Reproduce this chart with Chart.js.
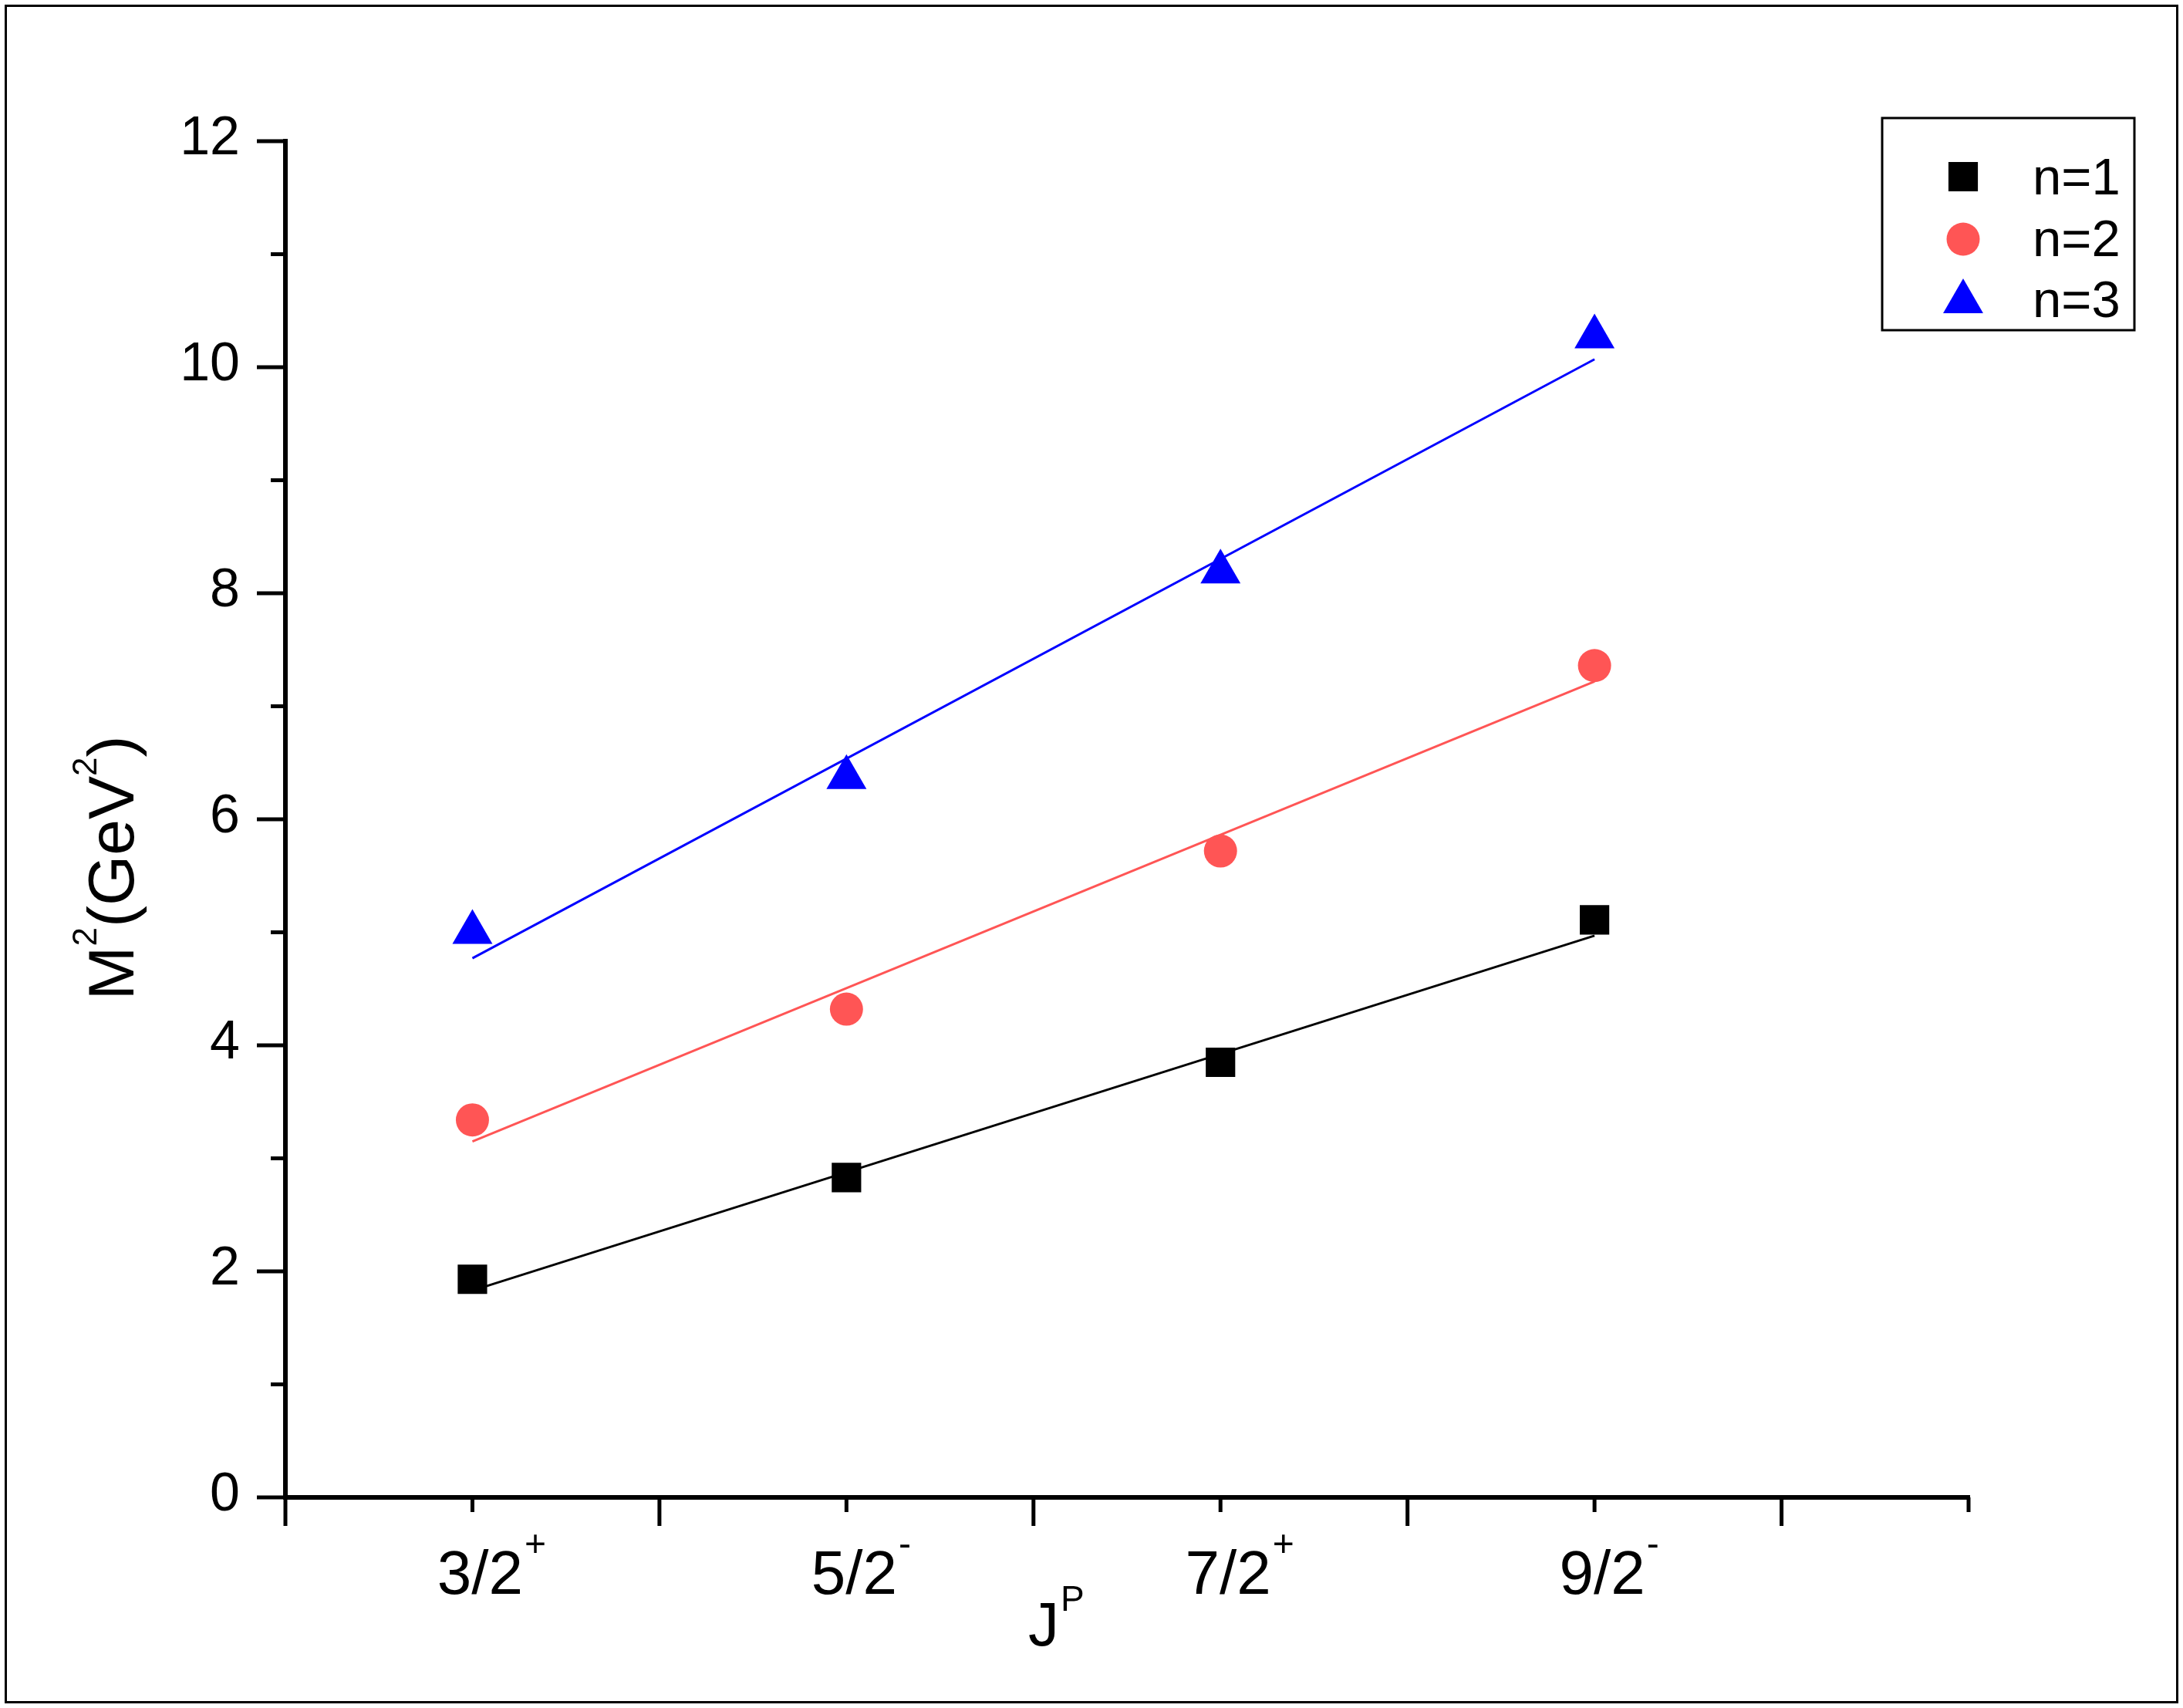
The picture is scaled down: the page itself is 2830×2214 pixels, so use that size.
<!DOCTYPE html>
<html>
<head>
<meta charset="utf-8">
<title>M2 vs JP</title>
<script src="https://cdn.jsdelivr.net/npm/chart.js@4.4.1/dist/chart.umd.min.js"></script>
<style>
  html, body { margin: 0; padding: 0; background: #fff; }
  canvas { display: block; }
</style>
</head>
<body>
<canvas id="myChart" width="2830" height="2214"></canvas>
<script>
// categories (J^P) and their x positions
const spins = ['3/2', '5/2', '7/2', '9/2'];
const parity = ['+', '-', '+', '-'];
const xPos = [1, 2, 3, 4];

// M^2 values
const n1 = [1.93, 2.83, 3.85, 5.11];
const n2 = [3.34, 4.32, 5.72, 7.36];
const n3 = [5.00, 6.37, 8.19, 10.27];

// end points of the straight fit lines
const fitX = [1, 4];
const fit1 = [1.83, 4.97];
const fit2 = [3.15, 7.22];
const fit3 = [4.77, 10.07];

const seriesNames = ['n=1', 'n=2', 'n=3'];

// ticks
const yMajor = [0, 2, 4, 6, 8, 10, 12];
const yMinor = [1, 3, 5, 7, 9, 11];
const xMajor = [0.5, 1.5, 2.5, 3.5, 4.5];
const xMinor = [1, 2, 3, 4, 5];

const FONT = '"Liberation Sans", Arial, sans-serif';

function pts(xs, ys) {
  return xs.map((x, i) => ({ x: x, y: ys[i] }));
}

// draw text made of parts, some of them raised (superscripts)
function drawParts(ctx, parts, x, y) {
  let cx = x;
  parts.forEach(p => {
    ctx.font = p.size + 'px ' + FONT;
    ctx.fillText(p.t, cx, y + (p.dy || 0));
    cx += ctx.measureText(p.t).width + (p.gap || 0);
  });
}

function partsWidth(ctx, parts) {
  let w = 0;
  parts.forEach(p => {
    ctx.font = p.size + 'px ' + FONT;
    w += ctx.measureText(p.t).width + (p.gap || 0);
  });
  return w;
}

function drawMarker(ctx, ds, x, y) {
  const opts = { pointStyle: ds.pointStyle, radius: ds.pointRadius, rotation: 0, borderWidth: 0 };
  ctx.fillStyle = ds.backgroundColor;
  ctx.strokeStyle = ds.backgroundColor;
  if (Chart.helpers && Chart.helpers.drawPoint) {
    Chart.helpers.drawPoint(ctx, opts, x, y);
    return;
  }
  const r = ds.pointRadius;
  ctx.beginPath();
  if (ds.pointStyle === 'rect') {
    const s = Math.SQRT1_2 * r;
    ctx.rect(x - s, y - s, 2 * s, 2 * s);
  } else if (ds.pointStyle === 'triangle') {
    ctx.moveTo(x, y - r);
    ctx.lineTo(x + r * Math.sin(2 * Math.PI / 3), y + r / 2);
    ctx.lineTo(x - r * Math.sin(2 * Math.PI / 3), y + r / 2);
    ctx.closePath();
  } else {
    ctx.arc(x, y, r, 0, Math.PI * 2);
  }
  ctx.fill();
}

const originLook = {
  id: 'originLook',
  beforeDraw(chart) {
    const ctx = chart.ctx;
    ctx.save();
    ctx.fillStyle = '#fff';
    ctx.fillRect(0, 0, chart.width, chart.height);
    ctx.strokeStyle = '#000';
    ctx.lineWidth = 3;
    ctx.strokeRect(7.5, 7.5, chart.width - 15, chart.height - 15);
    ctx.restore();
  },
  afterDraw(chart) {
    const ctx = chart.ctx;
    const xs = chart.scales.x;
    const ys = chart.scales.y;
    const x0 = xs.getPixelForValue(xs.min);
    const x1 = xs.getPixelForValue(xs.max);
    const y0 = ys.getPixelForValue(ys.min);
    const y1 = ys.getPixelForValue(ys.max);
    ctx.save();
    ctx.strokeStyle = '#000';
    ctx.fillStyle = '#000';
    ctx.lineCap = 'butt';

    // axis lines
    ctx.lineWidth = 6;
    ctx.beginPath();
    ctx.moveTo(x0, y1 - 3);
    ctx.lineTo(x0, y0 + 3);
    ctx.moveTo(x0 - 3, y0);
    ctx.lineTo(x1 + 2, y0);
    ctx.stroke();

    // ticks
    ctx.lineWidth = 5;
    ctx.beginPath();
    yMajor.forEach(v => { const p = ys.getPixelForValue(v); ctx.moveTo(x0, p); ctx.lineTo(x0 - 37, p); });
    yMinor.forEach(v => { const p = ys.getPixelForValue(v); ctx.moveTo(x0, p); ctx.lineTo(x0 - 19, p); });
    xMajor.forEach(v => { const p = xs.getPixelForValue(v); ctx.moveTo(p, y0); ctx.lineTo(p, y0 + 37); });
    xMinor.forEach(v => { const p = xs.getPixelForValue(v); ctx.moveTo(p, y0); ctx.lineTo(p, y0 + 19); });
    ctx.stroke();

    // y tick labels
    ctx.textBaseline = 'alphabetic';
    ctx.textAlign = 'right';
    ctx.font = '70px ' + FONT;
    yMajor.forEach(v => {
      ctx.fillText(String(v), x0 - 59, ys.getPixelForValue(v) + 17);
    });

    // x tick labels with parity superscript
    ctx.textAlign = 'left';
    spins.forEach((s, i) => {
      const p = xs.getPixelForValue(xPos[i]) + 10;
      ctx.font = '80px ' + FONT;
      const w = ctx.measureText(s).width;
      drawParts(ctx, [
        { t: s, size: 80, gap: 2 },
        { t: parity[i], size: 48, dy: -49 }
      ], p - w / 2, y0 + 125);
    });

    // x title J^P
    drawParts(ctx, [
      { t: 'J', size: 80, gap: 2 },
      { t: 'P', size: 46, dy: -45 }
    ], 1333, 2133);

    // y title M^2(GeV^2), rotated
    const yTitle = [
      { t: 'M', size: 84 },
      { t: '2', size: 44, dy: -48 },
      { t: '(GeV', size: 84 },
      { t: '2', size: 44, dy: -48 },
      { t: ')', size: 84 }
    ];
    ctx.save();
    ctx.translate(173, 1125);
    ctx.rotate(-Math.PI / 2);
    drawParts(ctx, yTitle, -partsWidth(ctx, yTitle) / 2, 0);
    ctx.restore();

    // legend box
    ctx.lineWidth = 3;
    ctx.strokeRect(2440, 153, 327, 275);
    const markerSets = chart.data.datasets.filter(d => d.showLine === false);
    const rowY = [229, 310, 391];
    const textY = [252, 332, 411];
    markerSets.forEach((ds, i) => {
      drawMarker(ctx, ds, 2545, rowY[i]);
      ctx.fillStyle = '#000';
      ctx.font = '67px ' + FONT;
      ctx.textAlign = 'left';
      ctx.fillText(ds.label, 2635, textY[i]);
    });

    ctx.restore();
  }
};

const ctx = document.getElementById('myChart');

new Chart(ctx, {
  type: 'scatter',
  data: {
    datasets: [
      { type: 'line', label: 'fit n=1', data: pts(fitX, fit1), borderColor: '#000000', borderWidth: 3, pointRadius: 0, fill: false, order: 3 },
      { type: 'line', label: 'fit n=2', data: pts(fitX, fit2), borderColor: '#FF5555', borderWidth: 3, pointRadius: 0, fill: false, order: 3 },
      { type: 'line', label: 'fit n=3', data: pts(fitX, fit3), borderColor: '#0000FF', borderWidth: 3, pointRadius: 0, fill: false, order: 3 },
      { label: seriesNames[0], data: pts(xPos, n1), showLine: false, pointStyle: 'rect', pointRadius: 27, backgroundColor: '#000000', borderWidth: 0, order: 1 },
      { label: seriesNames[1], data: pts(xPos, n2), showLine: false, pointStyle: 'circle', pointRadius: 21.5, backgroundColor: '#FF5555', borderWidth: 0, order: 1 },
      { label: seriesNames[2], data: pts(xPos, n3), showLine: false, pointStyle: 'triangle', pointRadius: 30, backgroundColor: '#0000FF', borderWidth: 0, order: 1 }
    ]
  },
  options: {
    responsive: false,
    animation: false,
    devicePixelRatio: 1,
    events: [],
    layout: { padding: { left: 370, right: 278, top: 183, bottom: 273 } },
    scales: {
      x: { type: 'linear', min: 0.5, max: 5, display: false },
      y: { type: 'linear', min: 0, max: 12, display: false }
    },
    plugins: {
      legend: { display: false },
      tooltip: { enabled: false }
    }
  },
  plugins: [originLook]
});
</script>
</body>
</html>
